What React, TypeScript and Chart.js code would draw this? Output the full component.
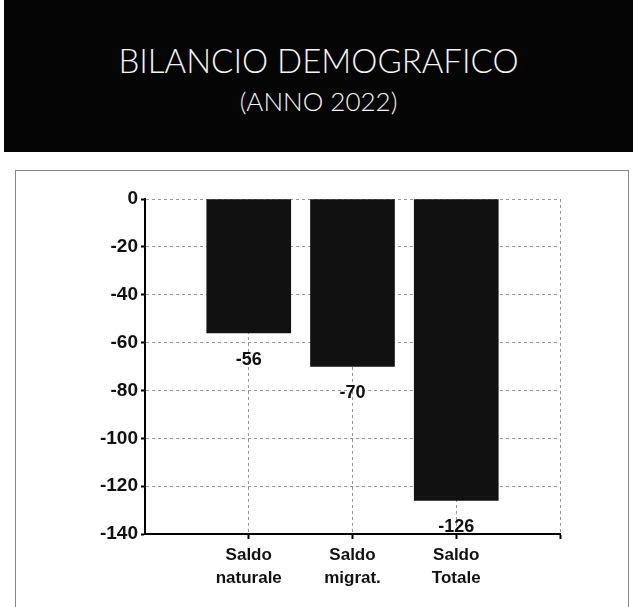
import React, { useEffect, useRef } from "react";
import { Chart, registerables } from "chart.js";

Chart.register(...registerables);

const titleLine1 = "BILANCIO DEMOGRAFICO";
const titleLine2 = "(ANNO 2022)";
const categories: string[][] = [
  ["Saldo", "naturale"],
  ["Saldo", "migrat."],
  ["Saldo", "Totale"],
];
const categoryPositions = [1, 2, 3];
const values = [-56, -70, -126];
const yTicks = [0, -20, -40, -60, -80, -100, -120, -140];

const labelPlugin = {
  id: "barValueLabels",
  afterDatasetsDraw(chart: any) {
    const ctx = chart.ctx;
    const meta = chart.getDatasetMeta(0);
    ctx.save();
    ctx.font = "bold 18px 'Liberation Sans', Arial, sans-serif";
    ctx.fillStyle = "#111";
    ctx.textAlign = "center";
    ctx.textBaseline = "middle";
    meta.data.forEach((bar: any, i: number) => {
      ctx.fillText(String(values[i]), bar.x, bar.y + 27);
    });
    ctx.restore();
  },
};

export default function App() {
  const canvasRef = useRef<HTMLCanvasElement | null>(null);

  useEffect(() => {
    const canvas = canvasRef.current;
    if (!canvas) return;
    const chart = new Chart(canvas, {
      type: "bar",
      data: {
        datasets: [
          {
            data: values.map((v, i) => ({ x: categoryPositions[i], y: v })),
            backgroundColor: "#111",
            borderWidth: 0,
            barThickness: 84,
            grouped: false,
          } as any,
        ],
      },
      options: {
        animation: false,
        responsive: false,
        devicePixelRatio: 1,
        layout: { padding: { top: 29, right: 73, left: 0, bottom: 0 } },
        plugins: {
          legend: { display: false },
          tooltip: { enabled: false },
        },
        scales: {
          x: {
            type: "linear",
            min: 0,
            max: 4,
            offset: false,
            afterBuildTicks: (s: any) => {
              s.ticks = [1, 2, 3, 4].map((v) => ({ value: v }));
            },
            afterFit: (s: any) => {
              s.height = 73;
            },
            ticks: {
              autoSkip: false,
              maxRotation: 0,
              padding: 5,
              color: "#111",
              font: { family: "'Liberation Sans', Arial, sans-serif", size: 17, weight: "bold", lineHeight: 1.35 },
              callback: (v: any) => categories[Number(v) - 1] ?? "",
            },
            grid: {
              offset: false,
              color: "#999",
              lineWidth: 1,
              tickLength: 5,
              tickColor: "#000",
              tickWidth: 2,
            },
            border: { color: "#000", width: 2, dash: [3, 3] },
          },
          y: {
            type: "linear",
            min: -140,
            max: 0,
            afterBuildTicks: (s: any) => {
              s.ticks = yTicks.map((v) => ({ value: v }));
            },
            afterFit: (s: any) => {
              s.width = 145;
            },
            ticks: {
              padding: 3,
              color: "#111",
              font: { family: "'Liberation Sans', Arial, sans-serif", size: 19, weight: "bold" },
            },
            grid: {
              color: "#999",
              lineWidth: 1,
              tickLength: 4,
              tickColor: "#000",
              tickWidth: 2,
            },
            border: { color: "#000", width: 2, dash: [3, 3] },
          },
        },
      } as any,
      plugins: [labelPlugin],
    });
    return () => chart.destroy();
  }, []);

  return (
    <div style={{ position: "fixed", left: 0, top: 0, width: 633, height: 607, background: "#fff", overflow: "hidden" }}>
      <div
        style={{
          position: "absolute",
          left: 4,
          top: 0,
          width: 629,
          height: 152,
          background: "#050505",
          color: "#f4f4f4",
          textAlign: "center",
          fontFamily: "Lato, 'Open Sans', sans-serif",
          fontWeight: 300,
        }}
      >
        <div style={{ position: "absolute", left: 0, right: 0, top: 40, fontSize: 33, lineHeight: "40px", letterSpacing: 0 }}>
          {titleLine1}
        </div>
        <div style={{ position: "absolute", left: 0, right: 0, top: 84, fontSize: 26, lineHeight: "34px" }}>
          {titleLine2}
        </div>
      </div>
      <div
        style={{
          position: "absolute",
          left: 15,
          top: 170,
          width: 614,
          height: 450,
          border: "1px solid #888",
          boxSizing: "border-box",
        }}
      />
      <canvas
        ref={canvasRef}
        width={633}
        height={437}
        style={{ position: "absolute", left: 0, top: 170, width: 633, height: 437 }}
      />
    </div>
  );
}
